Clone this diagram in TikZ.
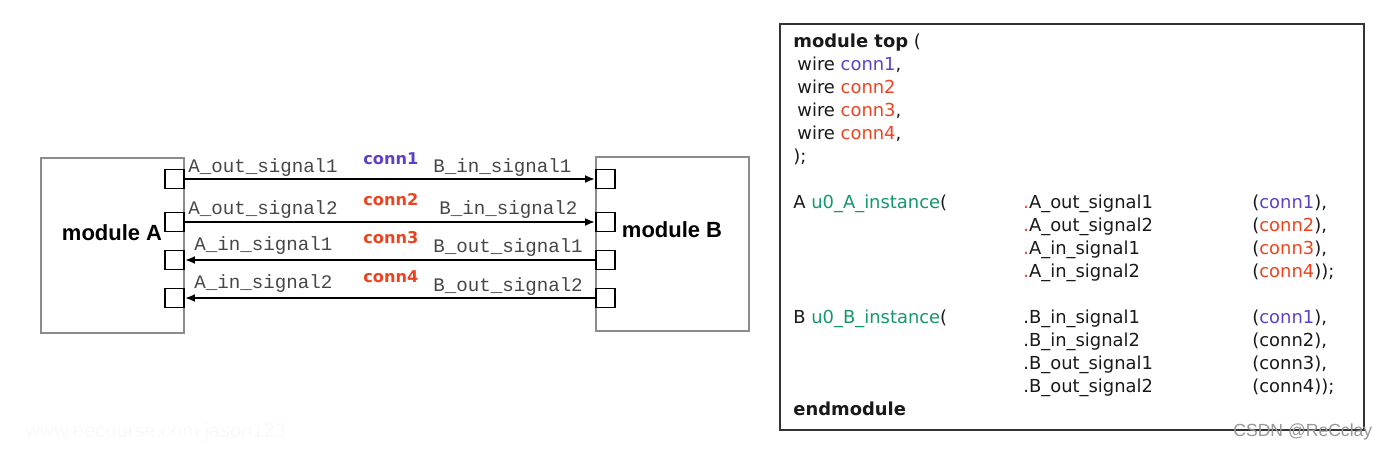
\documentclass[tikz,border=0pt]{standalone}
\usepackage{fontspec}
\usetikzlibrary{arrows.meta, positioning}
\newfontfamily\sigfont{Liberation Mono}
\newfontfamily\codefont{DejaVu Sans}
\newfontfamily\modfont{Liberation Sans}
\definecolor{connpurple}{RGB}{92, 64, 200}
\definecolor{connred}{RGB}{238, 66, 30}
\definecolor{instgreen}{RGB}{20, 150, 112}
\definecolor{siggray}{RGB}{70, 70, 70}
\definecolor{boxgray}{RGB}{140, 140, 140}
\definecolor{wmgray}{RGB}{150, 150, 150}
\definecolor{wmfaint}{RGB}{249, 249, 249}
\tikzset{
    modbox/.style={rectangle, draw=boxgray, line width=0.9pt, inner sep=0pt},
    port/.style={rectangle, draw=black, line width=1.1pt, fill=white, minimum size=0.38cm, inner sep=0pt},
    sig/.style={anchor=base west, inner sep=0pt, font=\sigfont\fontsize{10.9}{12}\selectfont, text=siggray},
    conn/.style={anchor=base west, inner sep=0pt, font=\codefont\fontsize{9.2}{11}\selectfont\bfseries},
    modlbl/.style={anchor=base, inner sep=0pt, font=\modfont\fontsize{12.5}{14}\selectfont\bfseries},
    code/.style={anchor=base west, inner sep=0pt, font=\codefont\fontsize{10.2}{12}\selectfont, text=black!90},
    codebox/.style={rectangle, draw=black!80, line width=1.1pt, minimum width=11.68cm, minimum height=8.12cm, inner sep=0pt},
    arrow/.style={-{Latex[length=2mm,width=1.6mm]}, line width=1.1pt},
    wmark/.style={anchor=base west, inner sep=0pt, font=\modfont\fontsize{10}{12}\selectfont},
}
\begin{document}
\begin{tikzpicture}[x=0.02cm, y=-0.02cm]
    \useasboundingbox (0,0) rectangle (1392,450);

    % the two modules
    \node[modbox, minimum width=2.86cm, minimum height=3.5cm] (modA) at (112.5,245.5) {};
    \node[modbox, minimum width=3.06cm, minimum height=3.48cm] (modB) at (672.5,244) {};
    \node[modlbl] (labA) at (112,240) {module A};
    \node[modlbl] (labB) at (672,237) {module B};

    % ports
    \node[port] (pa1) at (174.5,179) {};
    \node[port] (pa2) at (174.5,222) {};
    \node[port] (pa3) at (174.5,260) {};
    \node[port] (pa4) at (174.5,298) {};
    \node[port] (pb1) at (605.5,179) {};
    \node[port] (pb2) at (605.5,222) {};
    \node[port] (pb3) at (605.5,260) {};
    \node[port] (pb4) at (605.5,298) {};

    % wires
    \draw[arrow] (pa1.east) -- (pb1.west);
    \draw[arrow] (pa2.east) -- (pb2.west);
    \draw[arrow] (pb3.west) -- (pa3.east);
    \draw[arrow] (pb4.west) -- (pa4.east);

    % signal names
    \node[sig] (sa1) at (188,172) {A\_out\_signal1};
    \node[sig] (sa2) at (188,214) {A\_out\_signal2};
    \node[sig] (sa3) at (194,250) {A\_in\_signal1};
    \node[sig] (sa4) at (194,288) {A\_in\_signal2};
    \node[sig] (sb1) at (433,172) {B\_in\_signal1};
    \node[sig] (sb2) at (439,214) {B\_in\_signal2};
    \node[sig] (sb3) at (433,252) {B\_out\_signal1};
    \node[sig] (sb4) at (433,291) {B\_out\_signal2};

    \node[conn, text=connpurple] (c1) at (363,164) {conn1};
    \node[conn, text=connred] (c2) at (363,205) {conn2};
    \node[conn, text=connred] (c3) at (363,243) {conn3};
    \node[conn, text=connred] (c4) at (363,282) {conn4};

    % verilog listing
    \node[codebox] (topbox) at (1072,227) {};
    \node[code] (l0) at (793,47) {\textbf{module top} (};
    \node[code] (l1) at (797,70) {wire \textcolor{connpurple}{conn1},};
    \node[code] (l2) at (797,93) {wire \textcolor{connred}{conn2}};
    \node[code] (l3) at (797,116) {wire \textcolor{connred}{conn3},};
    \node[code] (l4) at (797,139) {wire \textcolor{connred}{conn4},};
    \node[code] (l5) at (793,162) {);};

    \node[code] (ia) at (793,208) {A \textcolor{instgreen}{u0\_A\_instance}(};
    \node[code] (ia1) at (1023,208) {\textcolor{connred}{.}A\_out\_signal1};
    \node[code] (ia2) at (1023,231) {\textcolor{connred}{.}A\_out\_signal2};
    \node[code] (ia3) at (1023,254) {\textcolor{connred}{.}A\_in\_signal1};
    \node[code] (ia4) at (1023,277) {\textcolor{connred}{.}A\_in\_signal2};
    \node[code] (ca1) at (1252,208) {(\textcolor{connpurple}{conn1}),};
    \node[code] (ca2) at (1252,231) {(\textcolor{connred}{conn2}),};
    \node[code] (ca3) at (1252,254) {(\textcolor{connred}{conn3}),};
    \node[code] (ca4) at (1252,277) {(\textcolor{connred}{conn4}));};

    \node[code] (ib) at (793,323) {B \textcolor{instgreen}{u0\_B\_instance}(};
    \node[code] (ib1) at (1023,323) {.B\_in\_signal1};
    \node[code] (ib2) at (1023,346) {.B\_in\_signal2};
    \node[code] (ib3) at (1023,369) {.B\_out\_signal1};
    \node[code] (ib4) at (1023,392) {.B\_out\_signal2};
    \node[code] (cb1) at (1252,323) {(\textcolor{connpurple}{conn1}),};
    \node[code] (cb2) at (1252,346) {(conn2),};
    \node[code] (cb3) at (1252,369) {(conn3),};
    \node[code] (cb4) at (1252,392) {(conn4));};
    \node[code] (lend) at (793,415) {\textbf{endmodule}};

    % watermarks
    \node[wmark, text=wmfaint, font=\modfont\fontsize{11.4}{13}\selectfont] (wm1) at (25,437) {www.eecourse.com jason123};
    \node[wmark, text=wmgray] (wm2) at (1233,436) {CSDN @ReCclay};
\end{tikzpicture}
\end{document}
